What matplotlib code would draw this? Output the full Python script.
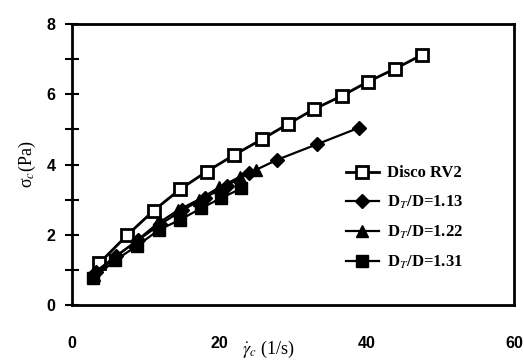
import matplotlib.pyplot as plt
from matplotlib.ticker import MultipleLocator

plt.rcParams["mathtext.fontset"] = "stix"

# shear rate (1/s) and stress (Pa)
x_disco = [3.7, 7.5, 11.1, 14.7, 18.3, 22.0, 25.8, 29.3, 32.9, 36.6, 40.2, 43.8, 47.5]
y_disco = [1.19, 1.99, 2.69, 3.30, 3.80, 4.27, 4.72, 5.15, 5.58, 5.95, 6.36, 6.72, 7.12]

x_113 = [3.2, 6.0, 9.0, 12.0, 15.0, 18.0, 21.0, 24.0, 27.8, 33.3, 39.0]
y_113 = [0.95, 1.40, 1.85, 2.30, 2.70, 3.05, 3.40, 3.75, 4.13, 4.58, 5.05]

x_122 = [3.0, 5.8, 8.6, 11.5, 14.4, 17.2, 20.0, 22.8, 25.0]
y_122 = [0.85, 1.35, 1.80, 2.30, 2.70, 3.00, 3.35, 3.65, 3.85]

x_131 = [2.9, 5.9, 8.8, 11.8, 14.6, 17.5, 20.2, 23.0]
y_131 = [0.76, 1.28, 1.68, 2.14, 2.42, 2.75, 3.04, 3.32]

labels = ["Disco RV2", "D$_T$/D=1.13", "D$_T$/D=1.22", "D$_T$/D=1.31"]

fig = plt.figure(figsize=(5.24, 3.6), dpi=100)
ax = fig.add_axes([0.1374, 0.1528, 0.8435, 0.7805])

ax.plot(x_disco, y_disco, c="black", lw=2, marker="s", ms=9, mfc="white", mec="black", mew=2, label=labels[0])
ax.plot(x_113, y_113, c="black", lw=1.6, marker="D", ms=7, mfc="black", mec="black", label=labels[1])
ax.plot(x_122, y_122, c="black", lw=1.6, marker="^", ms=9, mfc="black", mec="black", label=labels[2])
ax.plot(x_131, y_131, c="black", lw=1.6, marker="s", ms=8, mfc="black", mec="black", label=labels[3])

ax.set_xlim(0, 60)
ax.set_ylim(0, 8)
ax.xaxis.set_major_locator(MultipleLocator(20))
ax.yaxis.set_major_locator(MultipleLocator(2))
ax.yaxis.set_minor_locator(MultipleLocator(1))

for s in ax.spines.values():
    s.set_linewidth(2)

tick_font = {"family": "Liberation Sans", "weight": "bold", "size": 11.5}
ax.tick_params(axis="x", length=0, pad=22)
ax.tick_params(axis="y", which="both", direction="inout", length=10, width=1.5, pad=7)
for t in ax.get_xticklabels() + ax.get_yticklabels():
    t.set_fontproperties(tick_font)
ax.get_xticklabels()[-1].set_horizontalalignment("right")

ax.set_ylabel("σ$_c$(Pa)", family="Liberation Serif", size=13, labelpad=6)
ax.set_xlabel(r"$\dot{\gamma}_c$ (1/s)", family="Liberation Serif", size=13)
ax.xaxis.set_label_coords(0.445, -0.12)

ax.legend(loc="upper left", bbox_to_anchor=(0.585, 0.55), frameon=False, handlelength=2.0,
          handletextpad=0.5, labelspacing=0.75,
          prop={"family": "Liberation Serif", "weight": "bold", "size": 12})

fig.savefig("out.png", dpi=100)
